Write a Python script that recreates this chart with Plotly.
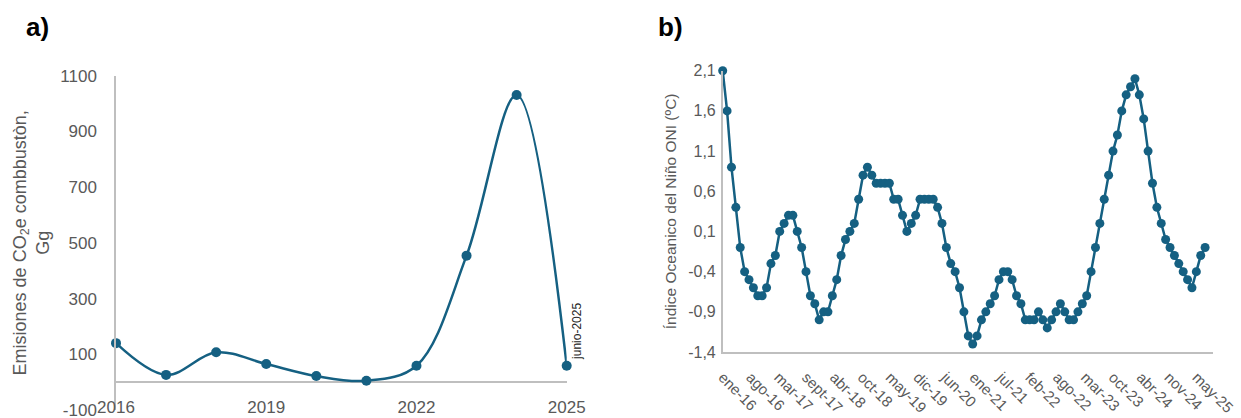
import numpy as np
import plotly.graph_objects as go

# ---------------- Data ----------------
# Panel a) CO2e emissions from combustion (Gg)
emis_years = [2016, 2017, 2018, 2019, 2020, 2021, 2022, 2023, 2024, 2025]
emis_values = [140, 26, 107, 65, 22, 5, 59, 454, 1031, 59]
emis_ticks = [2016, 2019, 2022, 2025]
emis_y_ticks = [-100, 100, 300, 500, 700, 900, 1100]

# Panel b) Oceanic Niño Index (ONI), monthly running values
oni_2016 = [2.1, 1.6, 0.9, 0.4, -0.1, -0.4, -0.5, -0.6, -0.7, -0.7, -0.6]
oni_2017 = [-0.3, -0.2, 0.1, 0.2, 0.3, 0.3, 0.1, -0.1, -0.4, -0.7, -0.8, -1.0]
oni_2018 = [-0.9, -0.9, -0.7, -0.5, -0.2, 0.0, 0.1, 0.2, 0.5, 0.8, 0.9, 0.8]
oni_2019 = [0.7, 0.7, 0.7, 0.7, 0.5, 0.5, 0.3, 0.1, 0.2, 0.3, 0.5, 0.5]
oni_2020 = [0.5, 0.5, 0.4, 0.2, -0.1, -0.3, -0.4, -0.6, -0.9, -1.2, -1.3, -1.2]
oni_2021 = [-1.0, -0.9, -0.8, -0.7, -0.5, -0.4, -0.4, -0.5, -0.7, -0.8, -1.0, -1.0]
oni_2022 = [-1.0, -0.9, -1.0, -1.1, -1.0, -0.9, -0.8, -0.9, -1.0, -1.0, -0.9, -0.8]
oni_2023 = [-0.7, -0.4, -0.1, 0.2, 0.5, 0.8, 1.1, 1.3, 1.6, 1.8, 1.9, 2.0]
oni_2024 = [1.8, 1.5, 1.1, 0.7, 0.4, 0.2, 0.0, -0.1, -0.2, -0.3, -0.4, -0.5]
oni_2025 = [-0.6, -0.4, -0.2, -0.1]
oni_values = (oni_2016 + oni_2017 + oni_2018 + oni_2019 + oni_2020 + oni_2021
              + oni_2022 + oni_2023 + oni_2024 + oni_2025)

oni_tick_labels = ["ene-16", "ago-16", "mar-17", "sept-17", "abr-18", "oct-18",
                   "may-19", "dic-19", "jun-20", "ene-21", "jul-21", "feb-22",
                   "ago-22", "mar-23", "oct-23", "abr-24", "nov-24", "may-25"]
oni_y_ticks = [-1.4, -0.9, -0.4, 0.1, 0.6, 1.1, 1.6, 2.1]

# ---------------- Figure ----------------
W, H = 1241, 418
BLUE = "#156082"
GRID = "#bfbfbf"
TXT = "#595959"
FONT = "Liberation Sans"

oni_x = np.arange(len(oni_values))
oni_tickvals = np.linspace(0, 108.1, len(oni_tick_labels))


def fx(px):
    return min(1.0, max(0.0, px / W))


def fy(py):
    return min(1.0, max(0.0, 1 - py / H))


fig = go.Figure()

fig.add_trace(go.Scatter(
    x=emis_years, y=emis_values, mode="lines+markers",
    line=dict(color=BLUE, width=2.5, shape="spline", smoothing=1.0),
    marker=dict(color=BLUE, size=10),
    cliponaxis=False, xaxis="x", yaxis="y", showlegend=False,
))

fig.add_trace(go.Scatter(
    x=oni_x, y=oni_values, mode="lines+markers",
    line=dict(color=BLUE, width=2.5),
    marker=dict(color=BLUE, size=9),
    cliponaxis=False, xaxis="x2", yaxis="y2", showlegend=False,
))

fig.update_layout(
    width=W, height=H,
    margin=dict(l=0, r=0, t=0, b=0, autoexpand=False),
    paper_bgcolor="white", plot_bgcolor="white",
    font=dict(family=FONT, color=TXT, size=16),
    xaxis=dict(
        domain=[fx(116), fx(566.7)], range=[2016, 2025],
        tickmode="array", tickvals=emis_ticks, ticktext=[str(t) for t in emis_ticks],
        showgrid=False, zeroline=False, showline=False, ticks="",
        ticklabelstandoff=-15, tickfont=dict(size=17, color=TXT),
        ticklabeloverflow="allow",
        anchor="y", automargin=False,
    ),
    yaxis=dict(
        domain=[fy(410), fy(75.7)], range=[-100, 1100],
        tickmode="array", tickvals=emis_y_ticks,
        ticktext=[str(v) for v in emis_y_ticks],
        showgrid=False, zeroline=True, zerolinecolor=GRID, zerolinewidth=1.5,
        showline=True, linecolor=GRID, linewidth=1.5, ticks="",
        ticklabelstandoff=14, tickfont=dict(size=17, color=TXT),
        ticklabeloverflow="allow",
        anchor="x", automargin=False,
        title=dict(text="Emisiones de CO<sub>2</sub>e combbustòn,<br>Gg",
                   font=dict(size=18, color=TXT), standoff=6),
    ),
    xaxis2=dict(
        domain=[fx(722.7), fx(1213)], range=[0, 111.8],
        tickmode="array", tickvals=oni_tickvals, ticktext=oni_tick_labels,
        tickangle=45, showgrid=False, zeroline=False,
        showline=True, linecolor=GRID, linewidth=1.5, ticks="",
        ticklabelstandoff=9, ticklabeloverflow="allow",
        tickfont=dict(size=15, color=TXT), anchor="y2", automargin=False,
    ),
    yaxis2=dict(
        domain=[fy(352), fy(70.7)], range=[-1.4, 2.1],
        tickmode="array", tickvals=oni_y_ticks,
        ticktext=[f"{v:.1f}".replace(".", ",") for v in oni_y_ticks],
        showgrid=False, zeroline=False,
        showline=True, linecolor=GRID, linewidth=1.5, ticks="",
        ticklabelstandoff=2, ticklabeloverflow="allow",
        tickfont=dict(size=16, color=TXT), anchor="x2",
        automargin=False,
        title=dict(text="Índice Oceanico del Niño ONI (ºC)",
                   font=dict(size=15.5, color=TXT), standoff=8),
    ),
    annotations=[
        dict(text="<b>a)</b>", x=fx(24), y=fy(27), xref="paper", yref="paper",
             xanchor="left", yanchor="middle", showarrow=False,
             font=dict(size=26, color="black", family=FONT)),
        dict(text="<b>b)</b>", x=fx(656), y=fy(27), xref="paper", yref="paper",
             xanchor="left", yanchor="middle", showarrow=False,
             font=dict(size=26, color="black", family=FONT)),
        dict(text="junio-2025", x=emis_years[-1], y=emis_values[-1],
             xref="x", yref="y", textangle=-90, showarrow=False,
             xanchor="left", yanchor="bottom", xshift=2, yshift=4,
             font=dict(size=12, color="#262626", family=FONT)),
    ],
)

fig.write_html(
    "out.html",
    config={"displayModeBar": False},
    post_script="document.body.style.margin='0';document.body.style.overflow='hidden';",
)
